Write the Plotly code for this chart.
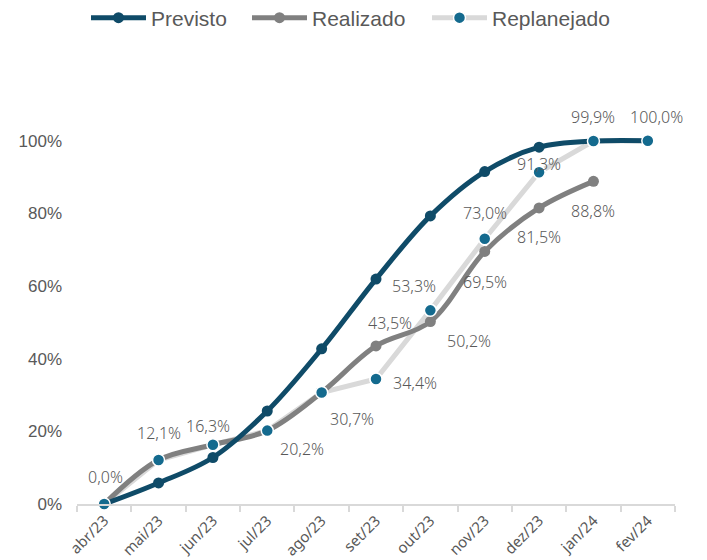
import plotly.graph_objects as go

months = ["abr/23", "mai/23", "jun/23", "jul/23", "ago/23", "set/23",
          "out/23", "nov/23", "dez/23", "jan/24", "fev/24"]
previsto = [0.0, 5.8, 12.8, 25.6, 42.7, 61.9, 79.3, 91.5, 98.2, 99.9, 100.0]
realizado = [0.0, 12.1, 16.3, 20.2, 30.7, 43.5, 50.2, 69.5, 81.5, 88.8, None]
replanejado = [0.0, 12.1, 16.3, 20.2, 30.7, 34.4, 53.3, 73.0, 91.3, 99.9, 100.0]
y_ticks = [0, 20, 40, 60, 80, 100]
y_tick_text = ["0%", "20%", "40%", "60%", "80%", "100%"]

# label offsets (px) for text annotations
rep_label_idx = list(range(11))
rep_label_off = [(1, 27), (0, 27), (-5, 19), (35, -18), (30, -27), (39, -4),
                 (-16, 24), (0, 26), (0, 8), (0, 24), (9, 24)]
real_label_idx = [5, 6, 7, 8, 9]
real_label_off = [(14, 23), (39, -19), (0, -31), (0, -29), (0, -30)]

NAVY = "#0F4B68"
GRAY = "#808080"
LIGHT = "#D9D9D9"
TEAL = "#146A8E"
TXT = "#595959"
LBL_FONT = dict(family="Noto Sans", size=16, color=TXT, weight=300)

def fmt(v):
    return f"{v:.1f}".replace(".", ",") + "%"

fig = go.Figure()
fig.add_trace(go.Scatter(
    x=months, y=replanejado, name="Replanejado", mode="lines+markers",
    line=dict(color=LIGHT, width=5),
    marker=dict(color=TEAL, size=12, line=dict(color="white", width=1.5)),
    legend="legend3", cliponaxis=False))
fig.add_trace(go.Scatter(
    x=months, y=realizado, name="Realizado", mode="lines+markers",
    line=dict(color=GRAY, width=5, shape="spline", smoothing=1),
    marker=dict(color=GRAY, size=11), legend="legend2", cliponaxis=False))
fig.add_trace(go.Scatter(
    x=months, y=previsto, name="Previsto", mode="lines+markers",
    line=dict(color=NAVY, width=5, shape="spline", smoothing=1),
    marker=dict(color=NAVY, size=11), legend="legend", cliponaxis=False))
fig.add_trace(go.Scatter(
    x=months, y=replanejado, name="Replanejado", mode="markers",
    marker=dict(color=TEAL, size=12, line=dict(color="white", width=1.5)),
    showlegend=False, cliponaxis=False))

for i, (dx, dy) in zip(rep_label_idx, rep_label_off):
    fig.add_annotation(x=months[i], y=replanejado[i], text=fmt(replanejado[i]),
                       showarrow=False, xshift=dx, yshift=dy, font=LBL_FONT)
for i, (dx, dy) in zip(real_label_idx, real_label_off):
    fig.add_annotation(x=months[i], y=realizado[i], text=fmt(realizado[i]),
                       showarrow=False, xshift=dx, yshift=dy, font=LBL_FONT)

W, H = 707, 560
def leg(px):
    return dict(orientation="h", xref="container", yref="container",
                x=px / W, xanchor="left", y=1 - 10 / H, yanchor="middle",
                font=dict(family="Liberation Sans", size=21, color=TXT),
                itemwidth=55, bgcolor="rgba(0,0,0,0)")

# page body has an 8px margin, so the figure is laid out 8px up/left
fig.update_layout(
    width=W, height=H,
    margin=dict(l=69, r=40, t=60, b=64, autoexpand=False),
    paper_bgcolor="white", plot_bgcolor="white",
    showlegend=True,
    legend=leg(78), legend2=leg(239), legend3=leg(419),
    xaxis=dict(type="category", range=[-0.5, 10.5], tickson="boundaries",
               ticks="outside", ticklen=6, tickcolor=LIGHT, tickwidth=2,
               showline=True, linecolor=LIGHT, linewidth=2, showgrid=False,
               automargin=False,
               tickangle=-45, tickfont=dict(family="Noto Sans", size=15, color=TXT)),
    yaxis=dict(range=[0, 120], tickmode="array", tickvals=y_ticks,
               ticktext=y_tick_text, showgrid=False, automargin=False,
               zeroline=False, showline=False, ticklabelstandoff=14,
               tickfont=dict(family="Liberation Sans", size=17, color=TXT)),
)

fig.write_html("out.html")
